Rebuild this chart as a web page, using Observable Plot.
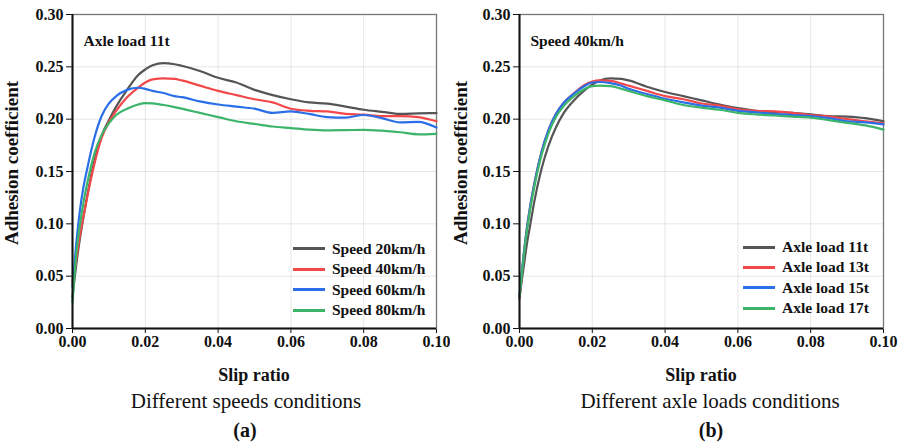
<!DOCTYPE html>
<html>
<head>
<meta charset="utf-8">
<script src="https://cdn.jsdelivr.net/npm/d3@7"></script>
<script src="https://cdn.jsdelivr.net/npm/@observablehq/plot@0.6"></script>
<style>
  html, body { margin: 0; padding: 0; background: #fff; }
  #wrap { position: relative; width: 905px; height: 446px; overflow: hidden; background: #fff; font-family: "Liberation Serif", "Times New Roman", serif; color: #111; }
  .abs { position: absolute; white-space: nowrap; }
  .ylab { font-weight: bold; font-size: 19px; transform: translate(-50%, -50%) rotate(-90deg); }
  .xlab { font-weight: bold; font-size: 18px; transform: translate(-50%, -50%); }
  .cap { font-size: 21px; transform: translate(-50%, -50%); }
  .tag { font-weight: bold; font-size: 20px; transform: translate(-50%, -50%); }
  .leg { font-weight: bold; font-size: 15.5px; display: flex; align-items: center; height: 20px; transform: translateY(-50%); }
  .leg span.sw { display: inline-block; width: 32px; height: 3px; margin-right: 7px; }
</style>
</head>
<body>
<div id="wrap"></div>
<script>
// ---------- data ----------
const slip = [0, 0.001, 0.002, 0.003, 0.004, 0.006, 0.008, 0.010, 0.012, 0.015, 0.018, 0.020, 0.022, 0.025, 0.028, 0.030, 0.035, 0.040, 0.045, 0.050, 0.055, 0.060, 0.065, 0.070, 0.075, 0.080, 0.085, 0.090, 0.095, 0.100];

const speedNames = ["Speed 20km/h", "Speed 40km/h", "Speed 60km/h", "Speed 80km/h"];
const speed20 = [0.030, 0.060, 0.085, 0.106, 0.126, 0.160, 0.184, 0.199, 0.212, 0.228, 0.242, 0.2475, 0.2515, 0.2535, 0.2525, 0.251, 0.246, 0.2395, 0.235, 0.228, 0.223, 0.219, 0.216, 0.2148, 0.212, 0.209, 0.207, 0.205, 0.2055, 0.2058];
const speed40 = [0.045, 0.065, 0.088, 0.107, 0.125, 0.157, 0.182, 0.197, 0.208, 0.221, 0.230, 0.235, 0.238, 0.239, 0.2385, 0.237, 0.232, 0.227, 0.223, 0.219, 0.216, 0.210, 0.208, 0.2074, 0.205, 0.2043, 0.203, 0.203, 0.202, 0.198];
const speed60 = [0.040, 0.080, 0.112, 0.135, 0.152, 0.182, 0.203, 0.215, 0.222, 0.228, 0.2300, 0.229, 0.227, 0.225, 0.222, 0.221, 0.217, 0.214, 0.212, 0.210, 0.206, 0.2075, 0.205, 0.202, 0.2015, 0.204, 0.201, 0.197, 0.1975, 0.192];
const speed80 = [0.025, 0.070, 0.098, 0.120, 0.138, 0.167, 0.185, 0.196, 0.204, 0.210, 0.214, 0.2153, 0.215, 0.2135, 0.2115, 0.210, 0.206, 0.202, 0.198, 0.1955, 0.193, 0.1915, 0.190, 0.1893, 0.1895, 0.1898, 0.189, 0.1875, 0.1855, 0.186];

const loadNames = ["Axle load 11t", "Axle load 13t", "Axle load 15t", "Axle load 17t"];
const load11 = [0.030, 0.055, 0.080, 0.100, 0.120, 0.152, 0.175, 0.192, 0.205, 0.218, 0.228, 0.233, 0.237, 0.239, 0.2385, 0.237, 0.231, 0.226, 0.222, 0.218, 0.214, 0.2105, 0.208, 0.207, 0.206, 0.2045, 0.203, 0.2025, 0.201, 0.198];
const load13 = [0.028, 0.065, 0.095, 0.118, 0.137, 0.168, 0.190, 0.205, 0.215, 0.225, 0.233, 0.236, 0.237, 0.2365, 0.234, 0.232, 0.227, 0.222, 0.219, 0.215, 0.213, 0.2095, 0.208, 0.2075, 0.206, 0.204, 0.2025, 0.200, 0.198, 0.196];
const load15 = [0.032, 0.066, 0.095, 0.118, 0.137, 0.168, 0.190, 0.205, 0.215, 0.2245, 0.232, 0.235, 0.2355, 0.2345, 0.232, 0.229, 0.224, 0.2195, 0.216, 0.213, 0.211, 0.208, 0.2065, 0.205, 0.204, 0.203, 0.201, 0.198, 0.197, 0.195];
const load17 = [0.030, 0.064, 0.092, 0.115, 0.134, 0.165, 0.187, 0.202, 0.212, 0.222, 0.229, 0.2315, 0.232, 0.2315, 0.229, 0.227, 0.222, 0.218, 0.2135, 0.211, 0.209, 0.206, 0.2045, 0.2035, 0.2025, 0.2015, 0.199, 0.1965, 0.194, 0.190];

const xTicks = [0, 0.02, 0.04, 0.06, 0.08, 0.10];
const yTicks = [0, 0.05, 0.10, 0.15, 0.20, 0.25, 0.30];
const seriesColors = ["#555555", "#f2484a", "#2a6fe8", "#3cb46a"];

// ---------- helpers ----------
function rows(names, arrays) {
  const out = [];
  names.forEach((n, k) => slip.forEach((x, i) => out.push({x, y: arrays[k][i], s: n})));
  return out;
}

function panel(names, arrays, note, mLeft, width, mRight) {
  return Plot.plot({
    width, height: 446,
    marginLeft: mLeft, marginRight: mRight, marginTop: 14, marginBottom: 118,
    style: {fontFamily: "'Liberation Serif', 'Times New Roman', serif", fontSize: "16px", fontWeight: "bold", background: "transparent", color: "#111"},
    x: {domain: [0, 0.1], ticks: xTicks, tickFormat: d3.format(".2f"), label: null, tickSize: 5, tickPadding: 2, grid: true},
    y: {domain: [0, 0.3], ticks: yTicks, tickFormat: d3.format(".2f"), label: null, tickSize: 6, tickPadding: 3, grid: true},
    color: {domain: names, range: seriesColors},
    marks: [
      Plot.frame({stroke: "#777", strokeWidth: 1.3}),
      Plot.line(rows(names, arrays), {x: "x", y: "y", z: "s", stroke: "s", strokeWidth: 2.2, curve: "monotone-x"}),
      Plot.ruleX([0], {stroke: "#111", strokeWidth: 2}),
      Plot.ruleY([0], {stroke: "#111", strokeWidth: 2}),
      Plot.text([note], {frameAnchor: "top-left", dx: 11, dy: 20, text: d => d, fontSize: 15.5, fontWeight: "bold", textAnchor: "start", fill: "#111"})
    ]
  });
}

// ---------- build ----------
const wrap = document.getElementById("wrap");
function place(el, left, top) { el.style.position = "absolute"; el.style.left = left + "px"; el.style.top = top + "px"; wrap.appendChild(el); }

const pa = panel(speedNames, [speed20, speed40, speed60, speed80], "Axle load 11t", 72, 450, 14);
const pb = panel(loadNames, [load11, load13, load15, load17], "Speed 40km/h", 69, 455, 22);
place(pa, 0, 0);
place(pb, 450, 0);

function addText(cls, txt, left, top) {
  const d = document.createElement("div");
  d.className = "abs " + cls;
  d.textContent = txt;
  d.style.left = left + "px"; d.style.top = top + "px";
  wrap.appendChild(d);
  return d;
}
addText("ylab", "Adhesion coefficient", 12, 163);
addText("ylab", "Adhesion coefficient", 461, 163);
addText("xlab", "Slip ratio", 254, 375);
addText("xlab", "Slip ratio", 701, 375);
addText("cap", "Different speeds conditions", 246, 401);
addText("cap", "Different axle loads conditions", 710, 401);
addText("tag", "(a)", 245, 430);
addText("tag", "(b)", 711, 430);

function legend(names, left, top0, step) {
  names.forEach((n, i) => {
    const d = document.createElement("div");
    d.className = "abs leg";
    d.style.left = left + "px"; d.style.top = (top0 + i * step) + "px";
    const sw = document.createElement("span");
    sw.className = "sw"; sw.style.background = seriesColors[i];
    d.appendChild(sw);
    d.appendChild(document.createTextNode(n));
    wrap.appendChild(d);
  });
}
legend(speedNames, 293, 248.5, 20.5);
legend(loadNames, 743, 247, 20.4);
</script>
</body>
</html>
